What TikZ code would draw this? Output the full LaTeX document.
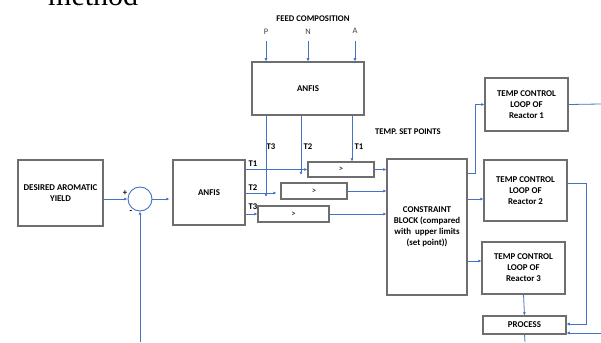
\documentclass[tikz,border=0pt]{standalone}
\usepackage{fontspec}
\setmainfont{Carlito}
\newfontfamily\serifmeth{Liberation Serif}
\usetikzlibrary{arrows.meta}
\definecolor{lblue}{HTML}{4472C4}
\definecolor{bgray}{HTML}{6E6E6E}
\tikzset{
  blk/.style={draw=bgray, line width=1.1pt, rectangle, inner sep=1pt, align=center, font=\bfseries\fontsize{8.9}{11}\selectfont},
  lbl/.style={inner sep=0pt, font=\bfseries\fontsize{8.7}{10.8}\selectfont},
  ilbl/.style={inner sep=0pt, text=black!75, font=\fontsize{8.4}{10}\selectfont},
  arr/.style={draw=lblue, line width=0.8pt, -{Latex[length=3.2pt,width=3pt]}},
  ln/.style={draw=lblue, line width=0.8pt}
}
\begin{document}
\begin{tikzpicture}[x=1pt,y=-1pt]
\useasboundingbox[fill=white] (0,0) rectangle (601,342);
\begin{scope}
\clip (0,0) rectangle (601,342);
\node[anchor=base west, inner sep=0pt, font=\serifmeth\fontsize{30}{30}\selectfont] (meth) at (48,6) {method};
\end{scope}
% blocks
\node[blk, minimum width=85pt, minimum height=66pt] (desired) at (60.5,193) {DESIRED AROMATIC\\YIELD};
\node[draw=lblue, line width=0.9pt, circle, minimum size=24pt, inner sep=0pt] (sum) at (140,199) {};
\node[blk, minimum width=72pt, minimum height=65pt] (anfis2) at (209,192.5) {ANFIS};
\node[blk, minimum width=112pt, minimum height=53pt] (anfis1) at (308,88.5) {ANFIS};
\node[blk, minimum width=66pt, minimum height=15pt, font=\fontsize{8.6}{10}\selectfont] (cmp1) at (341,169.5) {>};
\node[blk, minimum width=66pt, minimum height=16pt, font=\fontsize{8.6}{10}\selectfont] (cmp2) at (314,191) {>};
\node[blk, minimum width=71pt, minimum height=16pt, font=\fontsize{8.6}{10}\selectfont] (cmp3) at (293.5,214) {>};
\node[blk, minimum width=80pt, minimum height=136pt] (cons) at (427,227) {CONSTRAINT\\BLOCK (compared\\with~ upper limits\\(set point))};
\node[blk, minimum width=83pt, minimum height=53pt] (r1) at (526.5,104.5) {TEMP CONTROL\\LOOP OF\\Reactor 1};
\node[blk, minimum width=83pt, minimum height=61pt] (r2) at (525.5,190.5) {TEMP CONTROL\\LOOP OF\\Reactor 2};
\node[blk, minimum width=83pt, minimum height=52pt] (r3) at (523.5,268) {TEMP CONTROL\\LOOP OF\\Reactor 3};
\node[blk, minimum width=83pt, minimum height=18pt] (proc) at (524.5,325) {PROCESS};
% labels
\node[lbl] (feed) at (313,19) {FEED COMPOSITION};
\node[ilbl] (P) at (266,32) {P};
\node[ilbl] (N) at (308,32) {N};
\node[ilbl] (A) at (355,31) {A};
\node[lbl] (tsp) at (408,132) {TEMP. SET POINTS};
\node[lbl] (plus) at (125,193) {+};
\node[lbl] (minus) at (131,212) {-};
\node[lbl] (l1) at (253,164) {T1};
\node[lbl] (l2) at (253,188) {T2};
\node[lbl] (l3) at (253,207) {T3};
\node[lbl] (u3) at (271,147) {T3};
\node[lbl] (u2) at (308,147) {T2};
\node[lbl] (u1) at (359,147) {T1};
% coordinates
\coordinate (fb) at (140,342);
\coordinate (t3end) at (266,197);
\coordinate (t2end) at (301,175);
\coordinate (t1x) at (352,0);
\coordinate (y41) at (0,41);
\coordinate (y193) at (0,193);
\coordinate (k1) at (475,173);
\coordinate (k2) at (0,199);
\coordinate (k3) at (0,261);
\coordinate (r1out) at (601,104);
\coordinate (y183) at (0,183);
\coordinate (k4) at (586,183);
\coordinate (y324) at (0,324);
\coordinate (pin) at (601,333);
\coordinate (pout) at (525,342);
% connectors
\draw[arr] (desired.east|-sum.west) -- (sum.west);
\draw[arr] (sum.east) -- ([xshift=-3pt]anfis2.west|-sum.east);
\draw[arr] (fb) -- (sum.south);
\draw[arr] (P|-y41) -- (anfis1.north-|P);
\draw[arr] (N|-y41) -- (anfis1.north-|N);
\draw[arr] (A|-y41) -- (anfis1.north-|A);
\draw[arr] (anfis1.south-|t3end) -- (t3end);
\draw[arr] (anfis1.south-|t2end) -- (t2end);
\draw[arr] (anfis1.south-|t1x) -- (cmp1.north-|t1x);
\draw[arr] (anfis2.east|-cmp1.west) -- (cmp1.west);
\draw[arr] (anfis2.east|-y193) -- ([xshift=-4pt]cmp2.west|-y193);
\draw[arr] (anfis2.east|-cmp3.west) -- (cmp3.west);
\draw[arr] (cmp1.east) -- (cons.west|-cmp1.east);
\draw[arr] (cmp2.east) -- (cons.west|-cmp2.east);
\draw[arr] (cmp3.east) -- (cons.west|-cmp3.east);
\draw[arr] (cons.east|-k1) -- (k1) |- (r1.west);
\draw[arr] (cons.east|-k2) -- (r2.west|-k2);
\draw[arr] (cons.east|-k3) -- (r3.west|-k3);
\draw[ln] (r1.east) -- (r1out);
\draw[arr] (r2.east|-y183) -- (k4) |- (proc.east|-y324);
\draw[arr] (r3.south) -- (proc.north);
\draw[arr] (pin) -- (proc.east|-pin);
\draw[ln] (proc.south) -- (pout);
\end{tikzpicture}
\end{document}
